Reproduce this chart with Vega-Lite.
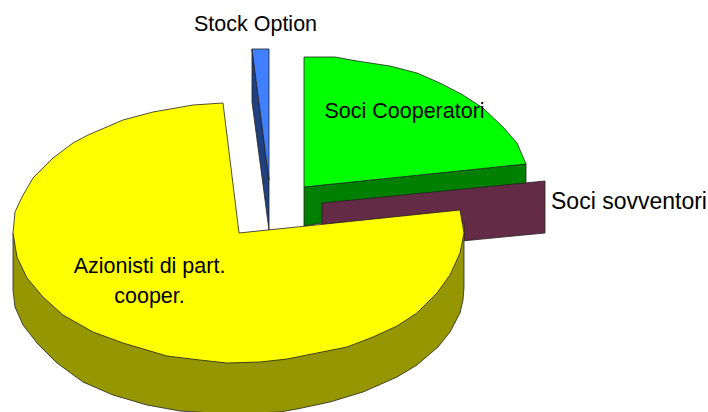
{"$schema":"https://vega.github.io/schema/vega-lite/v6.json","width":708,"height":412,"autosize":{"type":"fit","contains":"padding"},"padding":0,"background":"white","view":{"stroke":null},"config":{"view":{"stroke":null}},"datasets":{"outline":[
{"part":"Soci Cooperatori side","i":0,"x":304,"y":187},{"part":"Soci Cooperatori side","i":1,"x":526,"y":164},{"part":"Soci Cooperatori side","i":2,"x":526,"y":190},{"part":"Soci Cooperatori side","i":3,"x":304,"y":226},{"part":"Soci Cooperatori side","i":4,"x":304,"y":187},
{"part":"Soci Cooperatori","i":0,"x":304,"y":187},{"part":"Soci Cooperatori","i":1,"x":304,"y":57},{"part":"Soci Cooperatori","i":2,"x":335,"y":57},{"part":"Soci Cooperatori","i":3,"x":357,"y":61},{"part":"Soci Cooperatori","i":4,"x":390,"y":66},{"part":"Soci Cooperatori","i":5,"x":417,"y":73},{"part":"Soci Cooperatori","i":6,"x":440,"y":83},{"part":"Soci Cooperatori","i":7,"x":463,"y":95},{"part":"Soci Cooperatori","i":8,"x":483,"y":108},{"part":"Soci Cooperatori","i":9,"x":503,"y":127},{"part":"Soci Cooperatori","i":10,"x":517,"y":143},{"part":"Soci Cooperatori","i":11,"x":526,"y":164},{"part":"Soci Cooperatori","i":12,"x":304,"y":187},
{"part":"Soci sovventori","i":0,"x":322,"y":203},{"part":"Soci sovventori","i":1,"x":545,"y":181},{"part":"Soci sovventori","i":2,"x":545,"y":233},{"part":"Soci sovventori","i":3,"x":462,"y":241},{"part":"Soci sovventori","i":4,"x":322,"y":226},{"part":"Soci sovventori","i":5,"x":322,"y":203},
{"part":"Stock Option side","i":0,"x":252,"y":49},{"part":"Stock Option side","i":1,"x":252,"y":102},{"part":"Stock Option side","i":2,"x":269,"y":230},{"part":"Stock Option side","i":3,"x":269,"y":180},{"part":"Stock Option side","i":4,"x":252,"y":49},
{"part":"Stock Option","i":0,"x":252,"y":49},{"part":"Stock Option","i":1,"x":269,"y":49},{"part":"Stock Option","i":2,"x":269,"y":180},{"part":"Stock Option","i":3,"x":252,"y":49},
{"part":"Azionisti side","i":0,"x":13,"y":233},{"part":"Azionisti side","i":1,"x":13,"y":290},{"part":"Azionisti side","i":2,"x":15,"y":307},{"part":"Azionisti side","i":3,"x":23,"y":325},{"part":"Azionisti side","i":4,"x":37,"y":343},{"part":"Azionisti side","i":5,"x":57,"y":363},{"part":"Azionisti side","i":6,"x":83,"y":382},{"part":"Azionisti side","i":7,"x":113,"y":395},{"part":"Azionisti side","i":8,"x":147,"y":405},{"part":"Azionisti side","i":9,"x":180,"y":411},{"part":"Azionisti side","i":10,"x":230,"y":414},{"part":"Azionisti side","i":11,"x":280,"y":412},{"part":"Azionisti side","i":12,"x":297,"y":409},{"part":"Azionisti side","i":13,"x":330,"y":402},{"part":"Azionisti side","i":14,"x":363,"y":392},{"part":"Azionisti side","i":15,"x":397,"y":377},{"part":"Azionisti side","i":16,"x":417,"y":365},{"part":"Azionisti side","i":17,"x":438,"y":347},{"part":"Azionisti side","i":18,"x":450,"y":332},{"part":"Azionisti side","i":19,"x":460,"y":313},{"part":"Azionisti side","i":20,"x":463,"y":300},{"part":"Azionisti side","i":21,"x":464,"y":287},{"part":"Azionisti side","i":22,"x":464,"y":223},{"part":"Azionisti side","i":23,"x":239,"y":300},{"part":"Azionisti side","i":24,"x":13,"y":233},
{"part":"Azionisti di part. cooper.","i":0,"x":239,"y":233},{"part":"Azionisti di part. cooper.","i":1,"x":223,"y":103},{"part":"Azionisti di part. cooper.","i":2,"x":193,"y":105},{"part":"Azionisti di part. cooper.","i":3,"x":153,"y":112},{"part":"Azionisti di part. cooper.","i":4,"x":123,"y":120},{"part":"Azionisti di part. cooper.","i":5,"x":88,"y":135},{"part":"Azionisti di part. cooper.","i":6,"x":73,"y":143},{"part":"Azionisti di part. cooper.","i":7,"x":53,"y":158},{"part":"Azionisti di part. cooper.","i":8,"x":33,"y":178},{"part":"Azionisti di part. cooper.","i":9,"x":22,"y":197},{"part":"Azionisti di part. cooper.","i":10,"x":15,"y":212},{"part":"Azionisti di part. cooper.","i":11,"x":13,"y":233},{"part":"Azionisti di part. cooper.","i":12,"x":17,"y":257},{"part":"Azionisti di part. cooper.","i":13,"x":27,"y":278},{"part":"Azionisti di part. cooper.","i":14,"x":43,"y":297},{"part":"Azionisti di part. cooper.","i":15,"x":63,"y":315},{"part":"Azionisti di part. cooper.","i":16,"x":93,"y":332},{"part":"Azionisti di part. cooper.","i":17,"x":123,"y":343},{"part":"Azionisti di part. cooper.","i":18,"x":167,"y":356},{"part":"Azionisti di part. cooper.","i":19,"x":200,"y":360},{"part":"Azionisti di part. cooper.","i":20,"x":227,"y":363},{"part":"Azionisti di part. cooper.","i":21,"x":260,"y":362},{"part":"Azionisti di part. cooper.","i":22,"x":287,"y":359},{"part":"Azionisti di part. cooper.","i":23,"x":317,"y":353},{"part":"Azionisti di part. cooper.","i":24,"x":347,"y":347},{"part":"Azionisti di part. cooper.","i":25,"x":373,"y":337},{"part":"Azionisti di part. cooper.","i":26,"x":397,"y":326},{"part":"Azionisti di part. cooper.","i":27,"x":417,"y":313},{"part":"Azionisti di part. cooper.","i":28,"x":437,"y":293},{"part":"Azionisti di part. cooper.","i":29,"x":450,"y":275},{"part":"Azionisti di part. cooper.","i":30,"x":460,"y":253},{"part":"Azionisti di part. cooper.","i":31,"x":464,"y":233},{"part":"Azionisti di part. cooper.","i":32,"x":460,"y":210},{"part":"Azionisti di part. cooper.","i":33,"x":239,"y":233}
],"labels":[{"label":"Stock Option","x":255.5,"y":25},{"label":"Soci Cooperatori","x":404.5,"y":112},{"label":"Azionisti di part.","x":149.5,"y":267},{"label":"cooper.","x":149.5,"y":297}],"sideLabel":[{"label":"Soci sovventori","x":629,"y":202}]},
"layer":[
{"data":{"name":"outline"},"mark":{"type":"line","stroke":"#222222","strokeWidth":0.8,"clip":true},"encoding":{"x":{"field":"x","type":"quantitative","scale":{"domain":[0,708]},"axis":null},"y":{"field":"y","type":"quantitative","scale":{"domain":[412,0]},"axis":null},"order":{"field":"i","type":"ordinal"},"fill":{"field":"part","type":"nominal","legend":null,"scale":{"domain":["Soci Cooperatori side","Soci Cooperatori","Soci sovventori","Stock Option side","Stock Option","Azionisti side","Azionisti di part. cooper."],"range":["#008000","#00ff00","#632b45","#20407f","#4080ff","#969600","#ffff00"]}}}},
{"data":{"name":"labels"},"mark":{"type":"text","font":"Liberation Sans","fontSize":21.5,"color":"#000000","align":"center","baseline":"middle"},"encoding":{"x":{"field":"x","type":"quantitative","scale":{"domain":[0,708]},"axis":null},"y":{"field":"y","type":"quantitative","scale":{"domain":[412,0]},"axis":null},"text":{"field":"label"}}},
{"data":{"name":"sideLabel"},"mark":{"type":"text","font":"Liberation Sans","fontSize":23,"color":"#000000","align":"center","baseline":"middle"},"encoding":{"x":{"field":"x","type":"quantitative","scale":{"domain":[0,708]},"axis":null},"y":{"field":"y","type":"quantitative","scale":{"domain":[412,0]},"axis":null},"text":{"field":"label"}}}
]}
